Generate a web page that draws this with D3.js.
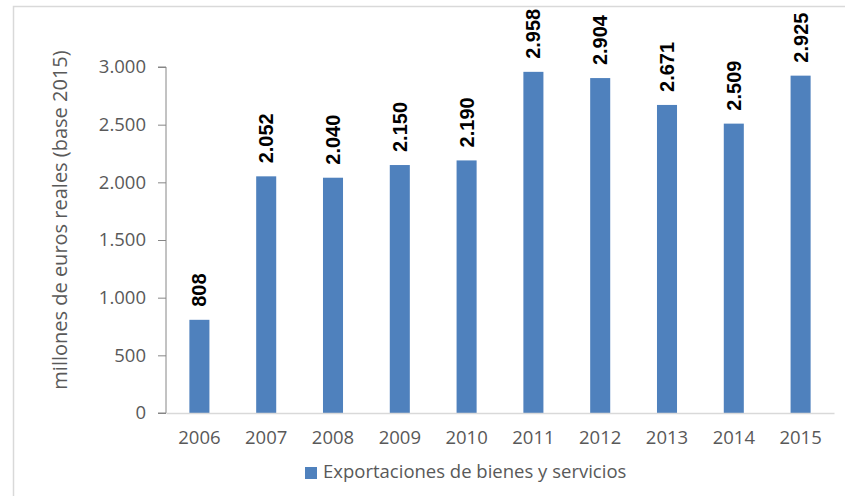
<!DOCTYPE html>
<html>
  <head>
    <meta charset="utf-8">
    <title>Exportaciones</title>
    <script src="https://d3js.org/d3.v7.min.js"></script>
    <style>
      body { margin: 0; background: #fff; }
      text { font-family: "Open Sans", "Liberation Sans", sans-serif; }
    </style>
  </head>
  <body>
    <div id="chart"></div>
    <script>
      // chart data
      const years = ['2006', '2007', '2008', '2009', '2010', '2011', '2012', '2013', '2014', '2015'];
      const exportaciones = [808, 2052, 2040, 2150, 2190, 2958, 2904, 2671, 2509, 2925];
      const yTicks = [0, 500, 1000, 1500, 2000, 2500, 3000];
      const seriesName = 'Exportaciones de bienes y servicios';
      const yTitle = 'millones de euros reales (base 2015)';

      const width = 845, height = 496;
      const plot = { left: 166, right: 834, top: 67, bottom: 413 };

      // Spanish number format: dot as thousands separator
      const fmt = d3.formatLocale({ decimal: ',', thousands: '.', grouping: [3], currency: ['', '€'] }).format(',d');

      const svg = d3.select('#chart')
        .append('svg')
        .attr('width', width)
        .attr('height', height);

      // outer frame
      svg.append('rect')
        .attr('x', 13.5)
        .attr('y', 6.5)
        .attr('width', 900)
        .attr('height', 600)
        .attr('fill', 'none')
        .attr('stroke', '#d9d9d9')
        .attr('stroke-width', 1.5);

      const x = d3.scaleBand()
        .domain(years)
        .range([plot.left, plot.right])
        .paddingInner(0.7)
        .paddingOuter(0.35);

      const y = d3.scaleLinear()
        .domain([0, 3000])
        .range([plot.bottom, plot.top]);

      // y axis
      const yAxis = svg.append('g')
        .attr('transform', 'translate(' + plot.left + ',0)')
        .call(d3.axisLeft(y).tickValues(yTicks).tickFormat(fmt).tickSize(8).tickPadding(12));
      yAxis.select('.domain').attr('stroke', '#868686').attr('d', 'M-8,' + plot.top + 'H0V' + plot.bottom + 'H-8');
      yAxis.selectAll('.tick line').attr('stroke', '#868686');
      yAxis.selectAll('.tick text')
        .attr('fill', '#595959')
        .style('font-size', '18.5px');

      // bars
      svg.selectAll('.bar')
        .data(exportaciones)
        .enter()
        .append('rect')
        .attr('class', 'bar')
        .attr('x', (d, i) => x(years[i]))
        .attr('y', d => y(d))
        .attr('width', x.bandwidth())
        .attr('height', d => plot.bottom - y(d))
        .attr('fill', '#4f81bd');

      // x axis
      const xAxis = svg.append('g')
        .attr('transform', 'translate(0,' + plot.bottom + ')')
        .call(d3.axisBottom(x).tickSize(0).tickPadding(18));
      xAxis.select('.domain').attr('stroke', '#d9d9d9').attr('stroke-width', 1.5);
      xAxis.selectAll('.tick text')
        .attr('fill', '#595959')
        .style('font-size', '18.5px');

      // value labels
      svg.selectAll('.label')
        .data(exportaciones)
        .enter()
        .append('text')
        .attr('class', 'label')
        .attr('transform', (d, i) => 'translate(' + (x(years[i]) + x.bandwidth() / 2) + ',' + (y(d) - 13) + ') rotate(-90)')
        .attr('dy', '0.35em')
        .attr('text-anchor', 'start')
        .attr('fill', '#000')
        .style('font-family', '"Liberation Sans", Arial, sans-serif')
        .style('font-weight', 'bold')
        .style('font-size', '20px')
        .text(d => fmt(d));

      // y axis title
      svg.append('text')
        .attr('transform', 'translate(60,220) rotate(-90)')
        .attr('text-anchor', 'middle')
        .attr('dy', '0.35em')
        .attr('fill', '#595959')
        .style('font-size', '20px')
        .text(yTitle);

      // legend
      const legend = svg.append('g').attr('transform', 'translate(305,467)');
      legend.append('rect')
        .attr('width', 12)
        .attr('height', 12)
        .attr('fill', '#4f81bd');
      legend.append('text')
        .attr('x', 18)
        .attr('y', 11)
        .attr('fill', '#595959')
        .style('font-size', '18.5px')
        .text(seriesName);
    </script>
  </body>
</html>
